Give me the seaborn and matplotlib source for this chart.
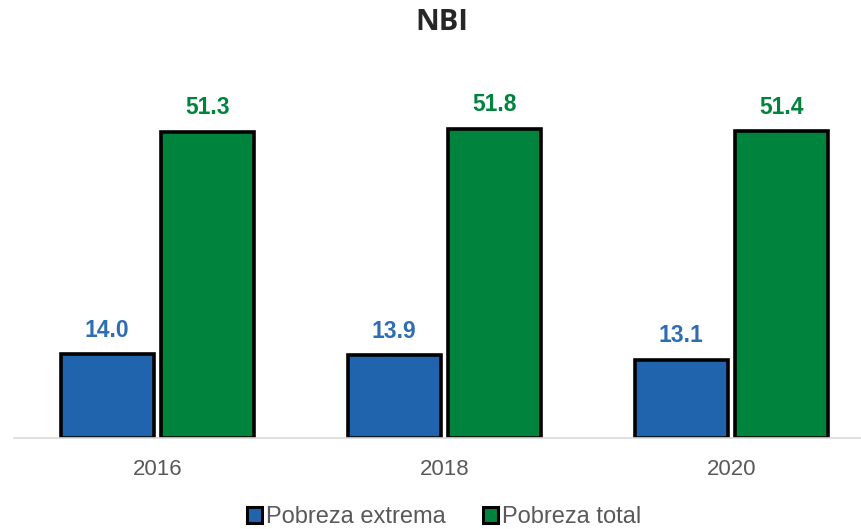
import matplotlib
matplotlib.use("Agg")
import matplotlib.pyplot as plt
import pandas as pd
import seaborn as sns
from matplotlib.patches import Patch

years = ["2016", "2018", "2020"]
series = ["Pobreza extrema", "Pobreza total"]
extrema = [14.0, 13.9, 13.1]
total = [51.3, 51.8, 51.4]

bar_colors = ["#1F64AD", "#00843D"]
label_colors = ["#2E6DB4", "#00843D"]

df = pd.DataFrame({
    "año": years * 2,
    "serie": [series[0]] * 3 + [series[1]] * 3,
    "valor": extrema + total,
})

sns.set_style("white")
plt.rcParams["font.family"] = ["Liberation Sans", "DejaVu Sans"]

fig = plt.figure(figsize=(8.62, 5.29), dpi=100)
ax = fig.add_axes([14 / 862, 1 - 438 / 529, 848 / 862, 358 / 529])

sns.barplot(data=df, x="año", y="valor", hue="serie", palette=bar_colors,
            saturation=1, width=0.7, gap=0.07, edgecolor="black",
            linewidth=2.6, legend=False, ax=ax)

# etiquetas de valor sobre cada barra
for cont, col in zip(ax.containers, label_colors):
    ax.bar_label(cont, fmt="%.1f", padding=9, color=col,
                 fontsize=16.5, fontweight="bold")

ax.set_ylim(0, 60)
ax.set_xlim(-0.5, 2.455)
ax.set_xlabel(""); ax.set_ylabel("")
ax.set_yticks([])
for s in ["left", "right", "top"]:
    ax.spines[s].set_visible(False)
ax.spines["bottom"].set_color("#D9D9D9")
ax.spines["bottom"].set_linewidth(1.2)
ax.tick_params(axis="x", length=0, pad=15, labelsize=16, labelcolor="#595959")

fig.text(442 / 862, 1 - 22 / 529, "NBI", ha="center", va="center",
         fontsize=21, fontweight="bold", family=["Open Sans", "DejaVu Sans"])

handles = [Patch(facecolor=c, edgecolor="black", linewidth=2.2) for c in bar_colors]
fig.legend(handles, series, loc="center", bbox_to_anchor=(444 / 862, 1 - 517 / 529),
           ncol=2, frameon=False, fontsize=17, labelcolor="#595959",
           handlelength=0.65, handleheight=0.65, handletextpad=0.15,
           columnspacing=1.6, borderpad=0)

fig.savefig("out.png", dpi=100)
plt.close(fig)
